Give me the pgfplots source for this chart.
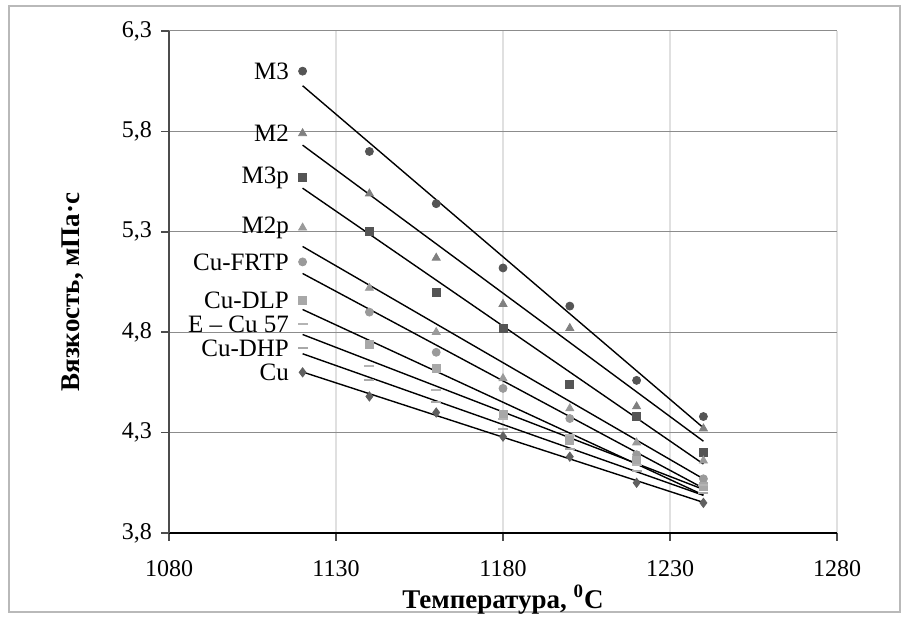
\documentclass[border=0pt]{standalone}
\usepackage{fontspec}
\setmainfont{Liberation Serif}
\usepackage{pgfplots}
\usepackage{pgfplotstable}
\pgfplotsset{compat=1.18}
\definecolor{cA}{HTML}{555555}
\definecolor{cB}{HTML}{808080}
\definecolor{cC}{HTML}{9A9A9A}
\definecolor{cD}{HTML}{A8A8A8}
\definecolor{cE}{HTML}{B4B4B4}
\definecolor{cF}{HTML}{606060}
\pgfplotstableread{
x    M3   M2   M3p  M2p  FRTP DLP  ECu  DHP  Cu
1120 6.10 5.79 5.57 5.32 5.15 4.96 4.84 4.72 4.60
1140 5.70 5.49 5.30 5.02 4.90 4.74 4.63 4.56 4.48
1160 5.44 5.17 5.00 4.80 4.70 4.62 4.51 4.45 4.40
1180 5.12 4.94 4.82 4.57 4.52 4.39 4.37 4.32 4.28
1200 4.93 4.82 4.54 4.42 4.37 4.26 4.29 4.22 4.18
1220 4.56 4.43 4.38 4.25 4.19 4.16 4.14 4.11 4.05
1240 4.38 4.32 4.20 4.16 4.07 4.03 4.04 4.00 3.95
}\data
\begin{document}
\begin{tikzpicture}
\useasboundingbox (0,0) rectangle (454pt,309.5pt);
\draw[gray!55, line width=1.2pt] (4.5pt,3.5pt) rectangle (450pt,306.5pt);
\begin{axis}[
  at={(84.5pt,43pt)}, anchor=south west,
  scale only axis, width=334pt, height=251pt,
  xmin=1080, xmax=1280, ymin=3.8, ymax=6.3,
  xtick={1080,1130,1180,1230,1280},
  ytick={3.8,4.3,4.8,5.3,5.8,6.3},
  axis lines=left,
  axis line style={-},
  x axis line style={black, line width=0.6pt},
  y axis line style={black!70, line width=1.1pt},
  tick align=outside, major tick length=4pt,
  tick style={black!70, line width=0.8pt},
  xmajorgrids, ymajorgrids,
  major x grid style={black!12, line width=1.1pt},
  major y grid style={black!45, line width=0.5pt},
  /pgf/number format/assume math mode=true,
  x tick label style={/pgf/number format/1000 sep={}, font=\fontsize{12}{14}\selectfont, yshift=-6pt},
  y tick label style={/pgf/number format/.cd, fixed, fixed zerofill, precision=1, use comma, /tikz/.cd, font=\fontsize{12}{14}\selectfont, xshift=-1pt},
  xlabel={Температура, \textsuperscript{0}C},
  ylabel={Вязкость, мПа·с},
  label style={font=\bfseries\fontsize{13.5}{16}\selectfont},
  xlabel style={at={(axis description cs:0.5,-0.133)}, anchor=center},
  ylabel style={at={(axis description cs:-0.144,0.48)}, anchor=center},
  clip=false,
]
% trend lines
\foreach \s in {M3,M2,M3p,M2p,FRTP,DLP,ECu,DHP,Cu}{
  \addplot[black, line width=0.7pt, no marks] table[x=x, y={create col/linear regression={y=\s}}] {\data};
}
% markers
\addplot[only marks, mark=*, mark size=2pt, color=cA] table[x=x,y=M3]{\data};
\addplot[only marks, mark=triangle*, mark size=2.3pt, color=cB] table[x=x,y=M2]{\data};
\addplot[only marks, mark=square*, mark size=2pt, color=cA] table[x=x,y=M3p]{\data};
\addplot[only marks, mark=triangle*, mark size=2.3pt, color=cC] table[x=x,y=M2p]{\data};
\addplot[only marks, mark=*, mark size=2pt, color=cC] table[x=x,y=FRTP]{\data};
\addplot[only marks, mark=square*, mark size=2pt, color=cD] table[x=x,y=DLP]{\data};
\addplot[only marks, mark=-, mark size=2.5pt, line width=1pt, color=cE] table[x=x,y=ECu]{\data};
\addplot[only marks, mark=-, mark size=2.5pt, line width=1pt, color=cD] table[x=x,y=DHP]{\data};
\addplot[only marks, mark=diamond*, mark size=2.3pt, color=cF] table[x=x,y=Cu]{\data};
% labels
\begin{scope}[every node/.style={anchor=east, font=\fontsize{12.5}{14}\selectfont, inner sep=0pt}]
\node at (axis cs:1116,6.10) {M3};
\node at (axis cs:1116,5.79) {M2};
\node at (axis cs:1116,5.57) {M3p};
\node at (axis cs:1116,5.32) {M2p};
\node at (axis cs:1116,5.15) {Cu-FRTP};
\node at (axis cs:1116,4.96) {Cu-DLP};
\node at (axis cs:1116,4.84) {E – Cu 57};
\node at (axis cs:1116,4.72) {Cu-DHP};
\node at (axis cs:1116,4.60) {Cu};
\end{scope}
\end{axis}
\end{tikzpicture}
\end{document}
